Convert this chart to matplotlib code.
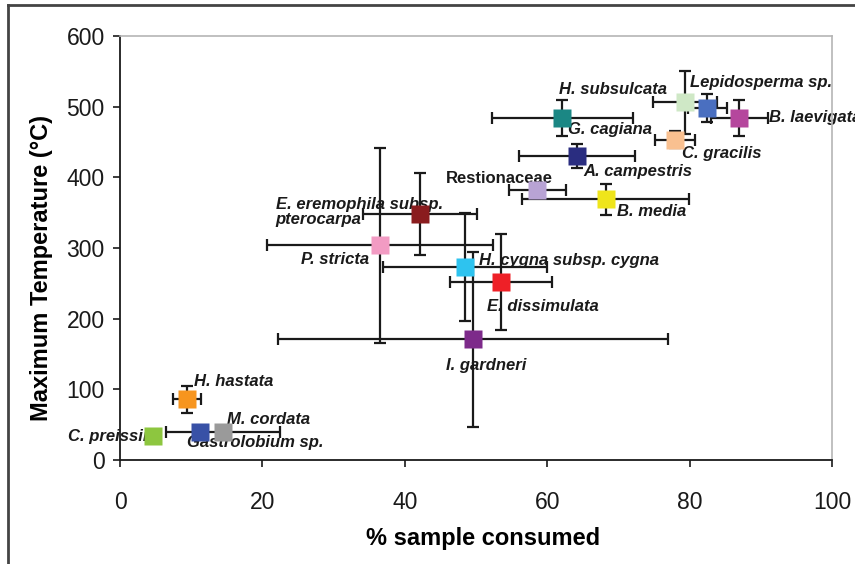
import matplotlib.pyplot as plt
from matplotlib.lines import Line2D

plt.rcParams['font.family'] = ['Liberation Sans', 'DejaVu Sans']

# species, % sample consumed, max temperature, and their +/- errors
names = ["G. cagiana", "Lepidosperma sp.", "H. subsulcata", "B. laevigata",
         "C. gracilis", "A. campestris", "Restionaceae", "B. media",
         "E. eremophila subsp.\npterocarpa", "P. stricta",
         "H. cygna subsp. cygna", "E. dissimulata", "I. gardneri",
         "H. hastata", "M. cordata", "Gastrolobium sp.", "C. preissii"]
consumed = [62.1, 79.3, 82.5, 87.0, 77.9, 64.2, 58.6, 68.2,
            42.1, 36.5, 48.5, 53.5, 49.6, 9.4, 14.5, 11.3, 4.7]
max_temp = [484, 506, 498, 484, 453, 430, 382, 369,
            348, 304, 273, 252, 171, 86, 40, 40, 34]
consumed_err = [9.9, 4.5, 2.7, 4.0, 2.8, 8.2, 4.0, 11.7,
                8.0, 15.9, 11.5, 7.2, 27.4, 2.0, 8.0, 0, 0]
temp_err = [25, 45, 20, 25, 12, 17, 0, 22,
            58, 138, 77, 68, 124, 19, 0, 0, 0]

colors = ["#1b8784", "#cfe8c6", "#4a6fc0", "#b5479d", "#f9c090", "#2a2d80",
          "#b8a3d4", "#efe51b", "#8a1c1e", "#f29bc3", "#2ec3ef", "#ee2027",
          "#7d2a8a", "#f7951e", "#9a9a9a", "#3851a6", "#8dc63f"]

# label offsets in pixels from the marker (dx, dy, ha)
label_pos = [(6, -12, 'left'), (5, 20, 'left'), (-148, 19, 'left'),
             (30, 0, 'left'), (7, -14, 'left'), (6, -15, 'left'),
             (-91, 12, 'left'), (11, -12, 'left'), (-144, 2, 'left'),
             (-79, -14, 'left'), (14, 7, 'left'), (-14, -25, 'left'),
             (-27, -26, 'left'), (7, 18, 'left'), (4, 12, 'left'),
             (-13, -11, 'left'), (-6, -1, 'right')]

fig = plt.figure(figsize=(8.55, 5.64), dpi=100)
ax = fig.add_axes([120 / 855, 1 - 460 / 564, 712 / 855, 424 / 564])

for i in range(len(names)):
    xe = consumed_err[i] if consumed_err[i] > 0 else None
    ye = temp_err[i] if temp_err[i] > 0 else None
    if xe is not None or ye is not None:
        ax.errorbar(consumed[i], max_temp[i], xerr=xe, yerr=ye, fmt='none',
                    ecolor='#1a1a1a', elinewidth=1.6, capsize=4,
                    capthick=1.6, zorder=2)
    ax.plot(consumed[i], max_temp[i], 's', ms=12.5, color=colors[i],
            mec='none', zorder=3)
    dx, dy, ha = label_pos[i]
    style = 'normal' if names[i] == "Restionaceae" else 'italic'
    ax.annotate(names[i], (consumed[i], max_temp[i]), xytext=(dx, dy),
                textcoords='offset pixels', ha=ha, va='center',
                fontsize=12, fontweight='bold', fontstyle=style,
                color='#1a1a1a', zorder=1, annotation_clip=False,
                linespacing=1.05)

ax.set_xlim(0, 100)
ax.set_ylim(0, 600)
ax.set_xticks(range(0, 101, 20))
ax.set_yticks(range(0, 601, 100))
ax.tick_params(axis='both', direction='out', length=5, width=1.2,
               labelsize=16.5, colors='#1a1a1a')
ax.tick_params(axis='x', pad=17)
ax.tick_params(axis='y', pad=6)

for s in ['left', 'bottom']:
    ax.spines[s].set_color('#1a1a1a')
    ax.spines[s].set_linewidth(1.3)
for s in ['top', 'right']:
    ax.spines[s].set_color('#b5b5b5')
    ax.spines[s].set_linewidth(1.2)

ax.set_xlabel("% sample consumed", fontsize=17, fontweight='bold')
ax.set_ylabel("Maximum Temperature (°C)", fontsize=17, fontweight='bold')
ax.xaxis.set_label_coords(0.51, -0.157)
ax.yaxis.set_label_coords(-0.11, 0.454)
ax.yaxis.label.set_va('center')

# outer frame (only top and left edges visible in the crop)
fig.add_artist(Line2D([8 / 855, 1.0], [1 - 5 / 564, 1 - 5 / 564],
                      transform=fig.transFigure, color='#444444', lw=2))
fig.add_artist(Line2D([8 / 855, 8 / 855], [0, 1 - 5 / 564],
                      transform=fig.transFigure, color='#444444', lw=2))

fig.savefig("out.png", dpi=100)
